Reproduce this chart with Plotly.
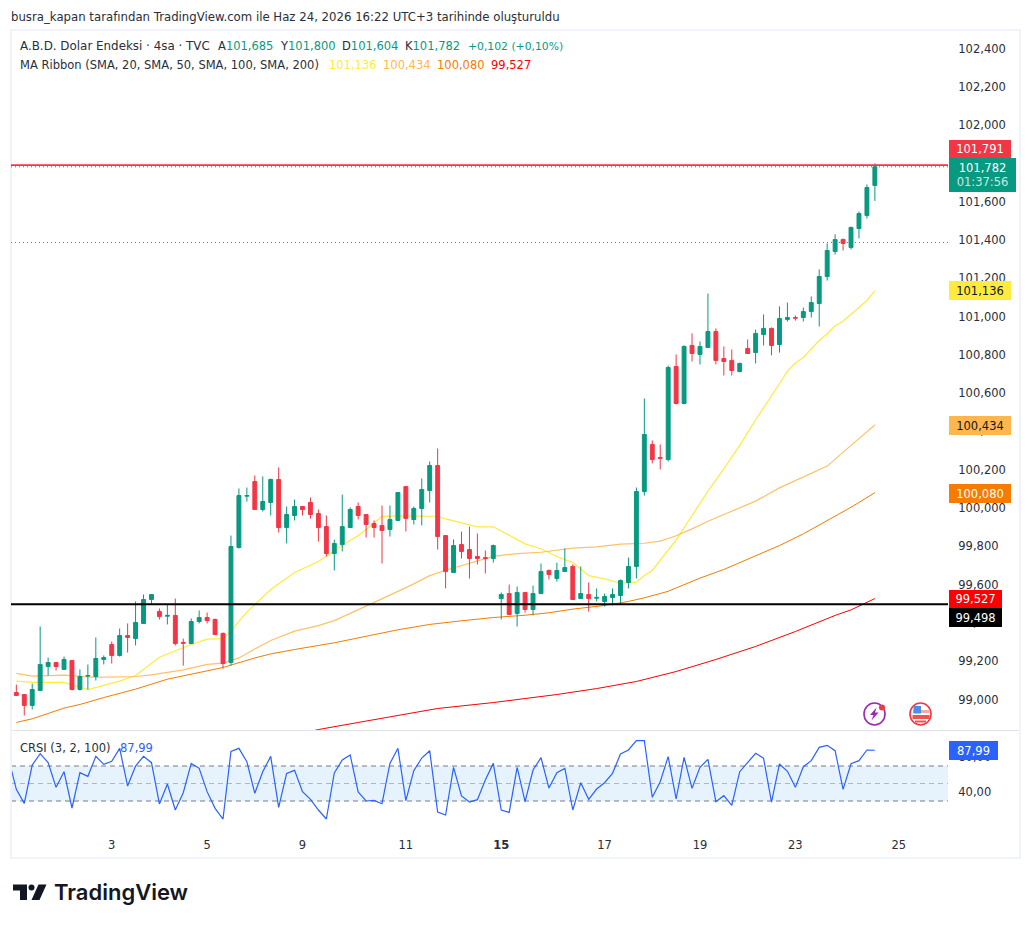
"""A.B.D. Dolar Endeksi 4sa chart with MA Ribbon and CRSI panes, TradingView look."""
import plotly.graph_objects as go

WIDTH = 1031
HEIGHT = 925
FONT = 'DejaVu Sans'
TEXT_COLOUR = '#2a2e39'
GREEN = '#089981'
RED = '#f23645'
YELLOW = '#ffeb3b'
LIGHT_ORANGE = '#ffb74d'
ORANGE = '#f57c00'
PURE_RED = '#ff0000'
BLUE = '#2962ff'

# candles, one per 4 hour bar
opens = [99.036, 99.026, 98.969, 99.047, 99.172, 99.193, 99.157, 99.204, 99.052, 99.122,
         99.120, 99.209, 99.287, 99.230, 99.334, 99.318, 99.397, 99.522, 99.460, 99.435,
         99.439, 99.298, 99.292, 99.407, 99.428, 99.418, 99.345, 99.193, 99.794, 100.062,
         100.138, 99.992, 100.029, 100.149, 99.898, 99.961, 100.008, 100.029, 99.971, 99.903,
         99.762, 99.809, 99.898, 100.008, 99.966, 99.919, 99.909, 99.888, 99.935, 100.112,
         99.940, 99.997, 100.091, 100.222, 99.856, 99.663, 99.809, 99.783, 99.747, 99.741,
         99.736, 99.527, 99.553, 99.449, 99.559, 99.470, 99.553, 99.674, 99.632, 99.668,
         99.695, 99.527, 99.548, 99.529, 99.512, 99.533, 99.543, 99.611, 99.695, 100.086,
         100.332, 100.264, 100.253, 100.739, 100.546, 100.849, 100.802, 100.838, 100.922, 100.781,
         100.771, 100.713, 100.833, 100.812, 100.906, 100.938, 100.854, 100.985, 100.995, 100.995,
         101.026, 101.068, 101.209, 101.340, 101.402, 101.361, 101.460, 101.528, 101.685]
highs = [99.078, 99.026, 99.083, 99.381, 99.219, 99.193, 99.224, 99.206, 99.157, 99.183,
         99.324, 99.230, 99.303, 99.371, 99.397, 99.512, 99.548, 99.548, 99.475, 99.496,
         99.527, 99.318, 99.423, 99.465, 99.454, 99.423, 99.350, 99.856, 100.102, 100.107,
         100.170, 100.165, 100.154, 100.212, 100.008, 100.044, 100.008, 100.055, 99.992, 99.961,
         99.835, 100.070, 100.003, 100.029, 99.966, 99.935, 100.013, 100.013, 100.081, 100.112,
         100.008, 100.154, 100.243, 100.311, 99.856, 99.836, 99.877, 99.903, 99.867, 99.778,
         99.809, 99.559, 99.600, 99.590, 99.559, 99.595, 99.710, 99.679, 99.715, 99.789,
         99.705, 99.695, 99.611, 99.580, 99.553, 99.580, 99.627, 99.741, 100.107, 100.572,
         100.353, 100.332, 100.744, 100.802, 100.849, 100.912, 100.870, 101.120, 100.938, 100.844,
         100.828, 100.760, 100.880, 100.932, 101.011, 100.943, 101.053, 101.073, 101.006, 101.047,
         101.105, 101.246, 101.382, 101.429, 101.408, 101.470, 101.549, 101.690, 101.800]
lows = [99.021, 98.916, 98.948, 99.047, 99.125, 99.151, 99.157, 99.047, 99.047, 99.052,
        99.099, 99.183, 99.188, 99.224, 99.245, 99.282, 99.397, 99.500, 99.418, 99.392,
        99.282, 99.177, 99.292, 99.397, 99.397, 99.339, 99.162, 99.177, 99.788, 100.034,
        99.992, 99.982, 99.961, 99.872, 99.815, 99.935, 99.961, 99.945, 99.825, 99.747,
        99.674, 99.773, 99.898, 99.940, 99.846, 99.846, 99.710, 99.851, 99.935, 99.877,
        99.914, 99.909, 100.029, 99.783, 99.580, 99.663, 99.736, 99.632, 99.705, 99.658,
        99.715, 99.418, 99.444, 99.381, 99.454, 99.439, 99.553, 99.627, 99.616, 99.668,
        99.522, 99.527, 99.459, 99.512, 99.486, 99.491, 99.500, 99.580, 99.632, 100.065,
        100.233, 100.201, 100.243, 100.541, 100.541, 100.765, 100.750, 100.838, 100.750, 100.692,
        100.692, 100.708, 100.807, 100.755, 100.849, 100.797, 100.812, 100.974, 100.979, 100.974,
        100.995, 100.948, 101.188, 101.324, 101.345, 101.350, 101.408, 101.512, 101.604]
closes = [99.021, 98.969, 99.052, 99.183, 99.193, 99.172, 99.209, 99.052, 99.120, 99.125,
          99.214, 99.219, 99.230, 99.334, 99.324, 99.402, 99.522, 99.548, 99.433, 99.439,
          99.292, 99.294, 99.407, 99.428, 99.412, 99.339, 99.188, 99.799, 100.065, 100.065,
          99.992, 100.034, 100.149, 99.898, 99.966, 100.008, 99.992, 99.966, 99.898, 99.762,
          99.815, 99.903, 99.992, 99.961, 99.914, 99.898, 99.883, 99.940, 100.081, 99.945,
          99.997, 100.097, 100.222, 99.851, 99.668, 99.804, 99.773, 99.736, 99.736, 99.736,
          99.804, 99.548, 99.444, 99.559, 99.470, 99.553, 99.668, 99.653, 99.674, 99.689,
          99.522, 99.553, 99.527, 99.533, 99.538, 99.548, 99.621, 99.695, 100.086, 100.384,
          100.253, 100.260, 100.734, 100.546, 100.844, 100.807, 100.844, 100.922, 100.771, 100.765,
          100.718, 100.755, 100.807, 100.912, 100.938, 100.849, 100.990, 100.995, 100.992, 101.026,
          101.073, 101.209, 101.345, 101.402, 101.382, 101.465, 101.538, 101.674, 101.782]

# moving averages, read at the bars listed next to them
sma20_bars = [0, 2, 6, 8, 9, 13, 15, 18, 20, 22, 24, 26, 27, 29, 32, 35, 38, 40, 41, 42, 43, 44, 45, 46, 48, 53,
              54, 56, 58, 60, 62, 64, 66, 68, 70, 72, 74, 76, 78, 79, 80, 81, 83, 85, 87, 89, 91, 93, 95, 96, 97,
              98, 99, 100, 101, 102, 103, 104, 105, 106, 107, 108]
sma20 = [99.096, 99.089, 99.089, 99.062, 99.052, 99.096, 99.125, 99.221, 99.256, 99.287, 99.315, 99.318, 99.360,
         99.456, 99.574, 99.663, 99.721, 99.778, 99.804, 99.830, 99.856, 99.888, 99.921, 99.956, 99.959, 99.957,
         99.943, 99.923, 99.902, 99.902, 99.856, 99.813, 99.787, 99.747, 99.715, 99.647, 99.630, 99.607, 99.613,
         99.647, 99.674, 99.726, 99.834, 99.961, 100.088, 100.205, 100.327, 100.461, 100.582, 100.649, 100.715,
         100.757, 100.786, 100.828, 100.875, 100.910, 100.952, 100.976, 101.011, 101.046, 101.084, 101.136]
sma50_bars = [0, 2, 6, 10, 15, 17, 21, 24, 26, 28, 30, 32, 35, 38, 40, 43, 45, 47, 50, 52, 54, 57, 60, 63, 66, 70,
              73, 76, 79, 81, 83, 85, 87, 89, 91, 93, 96, 99, 102, 105, 108]
sma50 = [99.136, 99.122, 99.127, 99.115, 99.120, 99.129, 99.155, 99.183, 99.190, 99.217, 99.264, 99.308, 99.357,
         99.386, 99.412, 99.468, 99.505, 99.545, 99.604, 99.647, 99.675, 99.712, 99.747, 99.762, 99.769, 99.790,
         99.797, 99.811, 99.816, 99.827, 99.855, 99.891, 99.931, 99.966, 100.001, 100.036, 100.105, 100.161,
         100.219, 100.327, 100.434]
sma100_bars = [0, 2, 6, 8, 11, 15, 19, 23, 26, 30, 32, 35, 38, 40, 48, 52, 56, 60, 64, 67, 70, 74, 77, 79, 82, 84,
               86, 89, 93, 96, 99, 102, 105, 108]
sma100 = [98.880, 98.899, 98.955, 98.974, 99.010, 99.054, 99.106, 99.143, 99.167, 99.217, 99.238, 99.261, 99.280,
          99.296, 99.364, 99.392, 99.411, 99.428, 99.440, 99.453, 99.472, 99.491, 99.512, 99.531, 99.565, 99.600,
          99.634, 99.679, 99.752, 99.804, 99.865, 99.935, 100.004, 100.080]
sma200_bars = [37, 38, 43, 48, 53, 60, 68, 73, 78, 83, 88, 93, 98, 103, 105, 108]
sma200 = [98.833, 98.843, 98.880, 98.916, 98.953, 98.984, 99.026, 99.057, 99.094, 99.146, 99.209, 99.277, 99.355,
          99.439, 99.468, 99.527]

# connors rsi, first entry is the bar just off the left edge
crsi_bars = list(range(-1, 109))
crsi = [79.1, 43.3, 27.3, 71.1, 84.1, 73.8, 45.6, 63.5, 22.0, 62.4, 58.2, 81.0, 71.9, 75.3, 90.2, 47.1, 70.0, 81.0,
        73.8, 26.6, 49.4, 19.7, 39.5, 73.0, 67.3, 40.7, 21.6, 9.4, 86.7, 90.2, 74.9, 38.8, 63.5, 81.0, 22.7, 61.6,
        65.0, 40.7, 31.9, 19.7, 9.4, 62.0, 76.8, 82.6, 40.3, 30.0, 30.7, 26.9, 73.0, 90.2, 30.4, 64.7, 79.1, 87.5,
        17.4, 14.0, 68.5, 35.7, 28.8, 31.5, 54.0, 73.0, 19.7, 17.0, 68.5, 29.2, 65.4, 79.5, 44.8, 62.4, 67.3, 19.7,
        50.9, 31.9, 43.7, 50.9, 61.6, 83.7, 88.3, 98.9, 98.9, 34.2, 52.1, 80.7, 32.3, 79.9, 44.5, 68.5, 77.6, 29.2,
        36.1, 25.0, 63.5, 74.2, 84.5, 78.8, 28.8, 72.3, 63.9, 45.6, 69.2, 76.1, 91.3, 93.6, 87.5, 43.3, 72.6, 76.1,
        88.3, 87.99]

price_ticks = [99.0, 99.2, 99.4, 99.6, 99.8, 100.0, 100.2, 100.4, 100.6, 100.8, 101.0, 101.2, 101.4, 101.6, 101.8,
               102.0, 102.2, 102.4]
price_tick_labels = ['99,000', '99,200', '99,400', '99,600', '99,800', '100,000', '100,200', '100,400', '100,600',
                     '100,800', '101,000', '101,200', '101,400', '101,600', '101,800', '102,000', '102,200', '102,400']
crsi_ticks = [40, 80]
crsi_tick_labels = ['40,00', '80,00']
time_ticks = [12, 24, 36, 49, 61, 74, 86, 98, 111]
time_tick_labels = ['3', '5', '9', '11', '<b>15</b>', '17', '19', '23', '25']

alert_price = 101.791
last_price = 101.782
dotted_level = 101.387
support_price = 99.498
band_high = 70
band_mid = 50
band_low = 30


def px(x: float) -> float:
    """Horizontal screen pixel to paper fraction."""
    return x / WIDTH


def py(y: float) -> float:
    """Vertical screen pixel to paper fraction."""
    return 1 - y / HEIGHT


def pixel_path(points: list) -> str:
    """Closed svg path in paper coordinates from screen pixel points."""
    parts = [f'{px(x)},{py(y)}' for x, y in points]
    return 'M' + ' L'.join(parts) + ' Z'


def text_at(x: float, y: float, text: str, colour: str = TEXT_COLOUR, size: float = 11.5) -> dict:
    """Plain text annotation anchored left at a screen position."""
    return dict(x=px(x - 2), y=py(y), xref='paper', yref='paper', text=text, showarrow=False, xanchor='left',
                yanchor='middle', font=dict(family=FONT, size=size, color=colour))


def price_box(left: float, top: float, w: float, h: float, text: str, fill: str, colour: str = 'white') -> dict:
    """Coloured label on the price scale."""
    return dict(x=px(left), y=py(top), xref='paper', yref='paper', text=text, showarrow=False, xanchor='left',
                yanchor='top', width=w, height=h, bgcolor=fill, borderpad=0, borderwidth=0, align='center',
                valign='middle', font=dict(family=FONT, size=11.5, color=colour))


def paper_shape(kind: str, x0: float, y0: float, x1: float, y1: float, fill=None, line=None, width=0) -> dict:
    """Rect or circle given in screen pixels."""
    return dict(type=kind, xref='paper', yref='paper', x0=px(x0), y0=py(y0), x1=px(x1), y1=py(y1),
                fillcolor=fill, line=dict(color=line, width=width), layer='above')


# moving averages go on the base axes, the candles sit on an overlay so they stay on top
traces = [
    go.Scatter(x=sma20_bars, y=sma20, mode='lines', line=dict(color=YELLOW, width=1.2), xaxis='x', yaxis='y'),
    go.Scatter(x=sma50_bars, y=sma50, mode='lines', line=dict(color=LIGHT_ORANGE, width=1.2), opacity=0.85,
               xaxis='x', yaxis='y'),
    go.Scatter(x=sma100_bars, y=sma100, mode='lines', line=dict(color=ORANGE, width=1), xaxis='x', yaxis='y'),
    go.Scatter(x=sma200_bars, y=sma200, mode='lines', line=dict(color=PURE_RED, width=1), xaxis='x', yaxis='y'),
    go.Candlestick(x=list(range(len(opens))), open=opens, high=highs, low=lows, close=closes,
                   increasing=dict(line=dict(color=GREEN, width=1), fillcolor=GREEN),
                   decreasing=dict(line=dict(color=RED, width=1), fillcolor=RED),
                   xaxis='x3', yaxis='y3'),
    go.Scatter(x=crsi_bars, y=crsi, mode='lines', line=dict(color=BLUE, width=1.2), xaxis='x2', yaxis='y2'),
]

fig = go.Figure(data=traces)

x_range = [-0.67, 117.2]
x_domain = [px(11), px(948)]
price_domain = [py(730.5), py(30.5)]
price_range = [98.838, 102.494]

shapes = [
    # frame and pane divider
    dict(type='rect', xref='paper', yref='paper', x0=px(11), y0=py(30), x1=px(1020), y1=py(858),
         line=dict(color='#f0f3fa', width=2), layer='above'),
    dict(type='line', xref='paper', yref='paper', x0=px(12), y0=py(730.5), x1=px(1019), y1=py(730.5),
         line=dict(color='#e0e3eb', width=1), layer='above'),
    # crsi band
    dict(type='rect', xref='x2 domain', yref='y2', x0=0, x1=1, y0=band_low, y1=band_high, fillcolor='#e3f2fd',
         opacity=0.9, line=dict(width=0), layer='below'),
    dict(type='line', xref='x2 domain', yref='y2', x0=0, x1=1, y0=band_high, y1=band_high,
         line=dict(color='#787b86', width=1, dash='5px,4px'), layer='below'),
    dict(type='line', xref='x2 domain', yref='y2', x0=0, x1=1, y0=band_mid, y1=band_mid,
         line=dict(color='#b2b5be', width=1, dash='5px,4px'), layer='below'),
    dict(type='line', xref='x2 domain', yref='y2', x0=0, x1=1, y0=band_low, y1=band_low,
         line=dict(color='#787b86', width=1, dash='5px,4px'), layer='below'),
    # price levels
    dict(type='line', xref='x domain', yref='y', x0=0, x1=1, y0=dotted_level, y1=dotted_level,
         line=dict(color=RED, width=1, dash='1px,3px'), layer='above'),
    dict(type='line', xref='x domain', yref='y', x0=0, x1=1, y0=last_price, y1=last_price,
         line=dict(color=GREEN, width=1, dash='1px,3px'), layer='above'),
    dict(type='line', xref='x domain', yref='y', x0=0, x1=1, y0=alert_price, y1=alert_price,
         line=dict(color=RED, width=1.6), layer='above'),
    dict(type='line', xref='x domain', yref='y', x0=0, x1=1, y0=support_price, y1=support_price,
         line=dict(color='black', width=2), layer='above'),
    # lightning icon
    paper_shape('circle', 864, 703, 885, 725, line='#9c27b0', width=1.6),
    dict(type='path', xref='paper', yref='paper', layer='above', fillcolor='#9c27b0', line=dict(width=0),
         path=pixel_path([(876.5, 707.5), (870, 715), (873.5, 715), (871.5, 720.5), (878.5, 712.5), (875, 712.5)])),
    paper_shape('circle', 879, 704.5, 885, 710.5, fill=RED),
    # flag icon
    paper_shape('circle', 910, 703, 931, 725, fill='white', line=RED, width=1.6),
    paper_shape('rect', 913, 710, 929, 713, fill='#f4a9a9'),
    paper_shape('rect', 912.5, 715, 929.5, 719, fill='#ef5350'),
    paper_shape('rect', 915, 720.5, 926, 722.5, fill='#ef5350'),
    paper_shape('rect', 913.5, 706, 921, 713.5, fill='#4c8fe8'),
    # logo
    dict(type='path', xref='paper', yref='paper', layer='above', fillcolor='#131722', line=dict(width=0),
         path=pixel_path([(13, 884.5), (27, 884.5), (27, 900), (20, 900), (20, 890.5), (13, 890.5)])),
    paper_shape('circle', 28.5, 884.5, 34.5, 890.5, fill='#131722'),
    dict(type='path', xref='paper', yref='paper', layer='above', fillcolor='#131722', line=dict(width=0),
         path=pixel_path([(38.5, 884.5), (46.5, 884.5), (39.5, 900), (31.5, 900)])),
]

legend_row = 46
ribbon_row = 65
annotations = [
    text_at(11, 17, 'busra_kapan tarafından TradingView.com ile Haz 24, 2026 16:22 UTC+3 tarihinde oluşturuldu',
            size=11.73),
    text_at(20, legend_row, 'A.B.D. Dolar Endeksi · 4sa · TVC', size=11.9),
    text_at(218, legend_row, f'A<span style="color:{GREEN}">101,685</span>'),
    text_at(280, legend_row, f'Y<span style="color:{GREEN}">101,800</span>'),
    text_at(342, legend_row, f'D<span style="color:{GREEN}">101,604</span>'),
    text_at(405, legend_row, f'K<span style="color:{GREEN}">101,782</span>'),
    text_at(468, legend_row, '+0,102 (+0,10%)', GREEN, size=10.8),
    text_at(20, ribbon_row, 'MA Ribbon (SMA, 20, SMA, 50, SMA, 100, SMA, 200)'),
    text_at(329, ribbon_row, '101,136', YELLOW),
    text_at(383, ribbon_row, '100,434', LIGHT_ORANGE),
    text_at(437, ribbon_row, '100,080', ORANGE),
    text_at(491, ribbon_row, '99,527', PURE_RED),
    text_at(20, 748, 'CRSI (3, 2, 100)'),
    text_at(120, 748, '87,99', BLUE),
    price_box(949, 140, 62, 18, '101,791', RED),
    price_box(949, 158, 67, 34, '101,782<br><span style="color:#c8e9e3">01:37:56</span>', GREEN),
    price_box(949, 281, 62, 19, '101,136', YELLOW, '#131722'),
    price_box(949, 416, 62, 19, '100,434', LIGHT_ORANGE, '#131722'),
    price_box(949, 484, 62, 19, '100,080', ORANGE),
    price_box(949, 590, 53, 18, '99,527', PURE_RED),
    price_box(949, 608, 53, 19, '99,498', 'black'),
    price_box(949, 741, 49, 19, '87,99', BLUE),
    dict(x=px(52), y=py(892), xref='paper', yref='paper', text='TradingView', showarrow=False, xanchor='left',
         yanchor='middle', font=dict(family='Inter', size=22, color='#131722', weight=600)),
]

fig.update_layout(
    width=WIDTH, height=HEIGHT, autosize=False, margin=dict(l=0, r=0, t=0, b=0),
    paper_bgcolor='white', plot_bgcolor='white', showlegend=False, hovermode=False,
    font=dict(family=FONT, size=11.5, color=TEXT_COLOUR),
    shapes=shapes, annotations=annotations,
    xaxis=dict(domain=x_domain, range=x_range, anchor='y', showgrid=False, zeroline=False, showticklabels=False,
               ticks='', showline=False),
    yaxis=dict(domain=price_domain, range=price_range, anchor='x', side='right', showgrid=False, zeroline=False,
               tickmode='array', tickvals=price_ticks, ticktext=price_tick_labels, ticks='outside', ticklen=7,
               tickcolor='rgba(0,0,0,0)', showline=False),
    xaxis2=dict(domain=x_domain, range=x_range, anchor='y2', showgrid=False, zeroline=False, showline=False,
                tickmode='array', tickvals=time_ticks, ticktext=time_tick_labels, ticks='outside', ticklen=5,
                tickcolor='rgba(0,0,0,0)'),
    yaxis2=dict(domain=[py(829), py(731)], range=[-2, 110], anchor='x2', side='right', showgrid=False,
                zeroline=False, tickmode='array', tickvals=crsi_ticks, ticktext=crsi_tick_labels, ticks='outside',
                ticklen=7, tickcolor='rgba(0,0,0,0)', showline=False),
    xaxis3=dict(overlaying='x', range=x_range, anchor='y3', visible=False, rangeslider=dict(visible=False)),
    yaxis3=dict(overlaying='y', range=price_range, anchor='x3', visible=False),
)

fig.write_html('out.html', config={'displayModeBar': False}, post_script="document.body.style.margin='0';")
